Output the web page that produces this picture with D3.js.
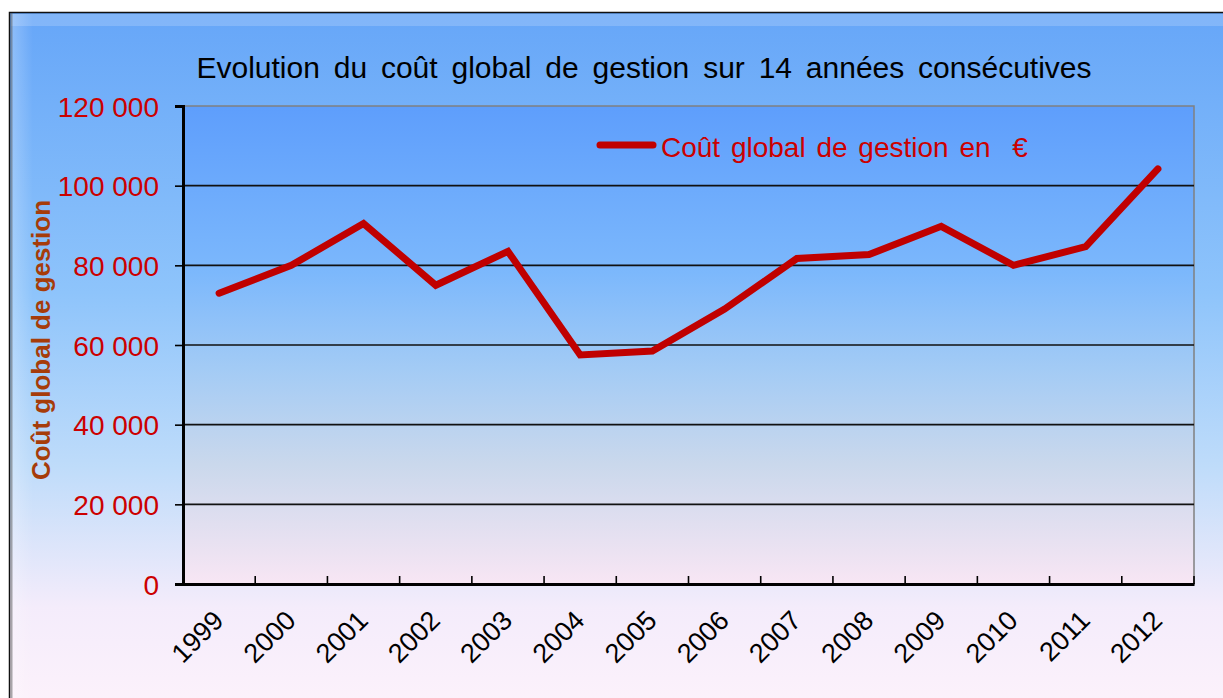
<!DOCTYPE html>
<html><head><meta charset="utf-8">
<script src="https://cdn.jsdelivr.net/npm/d3@7"></script>
<style>html,body{margin:0;padding:0;background:#fff;}svg{display:block;}</style>
</head><body>
<svg id="c" width="1223" height="698"></svg>
<script>
const years = ["1999","2000","2001","2002","2003","2004","2005","2006","2007","2008","2009","2010","2011","2012"];
const costs = [73000, 80000, 90500, 75000, 83500, 57500, 58500, 69000, 81700, 82700, 89800, 80000, 84700, 104200];
const yTicks = [0, 20000, 40000, 60000, 80000, 100000, 120000];
const title = "Evolution du coût global de gestion sur 14 années consécutives";
const yTitle = "Coût global de gestion";
const legendLabel = "Coût global de gestion en  €";

const svg = d3.select("#c");
const M = {left:183, right:1194, top:106, bottom:584};
const font = "'Liberation Sans', Arial, sans-serif";

const defs = svg.append("defs");
const bg = defs.append("linearGradient").attr("id","bg").attr("x1",0).attr("y1",0).attr("x2",0).attr("y2",1);
bg.append("stop").attr("offset","0%").attr("stop-color","#66a6f8");
bg.append("stop").attr("offset","40%").attr("stop-color","#8ec4fb");
bg.append("stop").attr("offset","65%").attr("stop-color","#bfdcfa");
bg.append("stop").attr("offset","85%").attr("stop-color","#f4ecfb");
bg.append("stop").attr("offset","100%").attr("stop-color","#fdf2fb");
const pg = defs.append("linearGradient").attr("id","pg").attr("x1",0).attr("y1",0).attr("x2",0).attr("y2",1);
pg.append("stop").attr("offset","0%").attr("stop-color","#5e9efc");
pg.append("stop").attr("offset","35%").attr("stop-color","#7cb8fc");
pg.append("stop").attr("offset","55%").attr("stop-color","#a3cbf5");
pg.append("stop").attr("offset","75%").attr("stop-color","#cad8ec");
pg.append("stop").attr("offset","100%").attr("stop-color","#f8e6f4");
const lg = defs.append("linearGradient").attr("id","lb").attr("x1",0).attr("y1",0).attr("x2",1).attr("y2",0);
lg.append("stop").attr("offset","0%").attr("stop-color","#ffffff").attr("stop-opacity",0.25);
lg.append("stop").attr("offset","100%").attr("stop-color","#ffffff").attr("stop-opacity",0);

// outer frame
svg.append("rect").attr("x",9.5).attr("y",12.5).attr("width",1225).attr("height",700)
  .attr("fill","url(#bg)").attr("stroke","#111").attr("stroke-width",1.5);
svg.append("rect").attr("x",11).attr("y",14).attr("width",1212).attr("height",12).attr("fill","#ffffff").attr("opacity",0.18);
svg.append("rect").attr("x",11).attr("y",14).attr("width",22).attr("height",684).attr("fill","url(#lb)");
svg.append("rect").attr("x",10.5).attr("y",13).attr("width",2).attr("height",685).attr("fill","#555").attr("opacity",0.5);

const x = d3.scaleBand().domain(years).range([M.left, M.right]);
const y = d3.scaleLinear().domain([0,120000]).range([M.bottom, M.top]);

// plot area
svg.append("rect").attr("x",M.left).attr("y",M.top).attr("width",M.right-M.left).attr("height",M.bottom-M.top)
  .attr("fill","url(#pg)").attr("stroke","#808080").attr("stroke-width",1.5);

// grid
svg.append("g").selectAll("line").data(yTicks.filter(d=>d>0 && d<120000)).join("line")
  .attr("x1",M.left).attr("x2",M.right).attr("y1",d=>y(d)).attr("y2",d=>y(d))
  .attr("stroke","#111").attr("stroke-width",1.6);

// y axis
const fmt = d => d3.format(",")(d).replace(/,/g," ");
const ya = svg.append("g").attr("transform",`translate(${M.left},0)`)
  .call(d3.axisLeft(y).tickValues(yTicks).tickFormat(fmt).tickSize(8).tickPadding(16));
ya.select(".domain").attr("stroke","#000").attr("stroke-width",3);
ya.selectAll(".tick line").attr("stroke","#000").attr("stroke-width",1.6);
ya.selectAll(".tick text").attr("fill","#cc0000").attr("font-family",font).attr("font-size",28).attr("dy","0.36em");

// x axis
const xa = svg.append("g").attr("transform",`translate(0,${M.bottom})`)
  .call(d3.axisBottom(x).tickSize(0).tickPadding(0));
xa.select(".domain").attr("stroke","#000").attr("stroke-width",3);
xa.selectAll(".tick text").attr("font-family",font).attr("font-size",27).attr("fill","#000")
  .attr("text-anchor","end").attr("dy",0).attr("transform","translate(6,38) rotate(-45)");
const bounds = years.map(d=>x(d)).concat([M.right]);
svg.append("g").selectAll("line").data(bounds).join("line")
  .attr("x1",d=>d).attr("x2",d=>d).attr("y1",M.bottom).attr("y2",M.bottom-8)
  .attr("stroke","#000").attr("stroke-width",1.6);

// line
const line = d3.line().x((d,i)=>x(years[i])+x.bandwidth()/2).y(d=>y(d));
svg.append("path").datum(costs).attr("d",line).attr("fill","none")
  .attr("stroke","#c00000").attr("stroke-width",7).attr("stroke-linejoin","miter").attr("stroke-linecap","round");

// title
svg.append("text").attr("x",644).attr("y",78).attr("text-anchor","middle")
  .attr("font-family",font).attr("font-size",30).attr("word-spacing",5.5).attr("fill","#000").text(title);

// y title
svg.append("text").attr("transform","translate(50,340) rotate(-90)").attr("text-anchor","middle")
  .attr("font-family",font).attr("font-weight","bold").attr("font-size",26).attr("fill","#a63c0a").text(yTitle);

// legend
svg.append("line").attr("x1",600).attr("x2",653).attr("y1",145).attr("y2",145)
  .attr("stroke","#c00000").attr("stroke-width",7).attr("stroke-linecap","round");
svg.append("text").attr("x",661).attr("y",157).attr("font-family",font).attr("font-size",28)
  .attr("word-spacing",3).attr("fill","#cc0000").style("white-space","pre").text(legendLabel);
</script>
</body></html>
